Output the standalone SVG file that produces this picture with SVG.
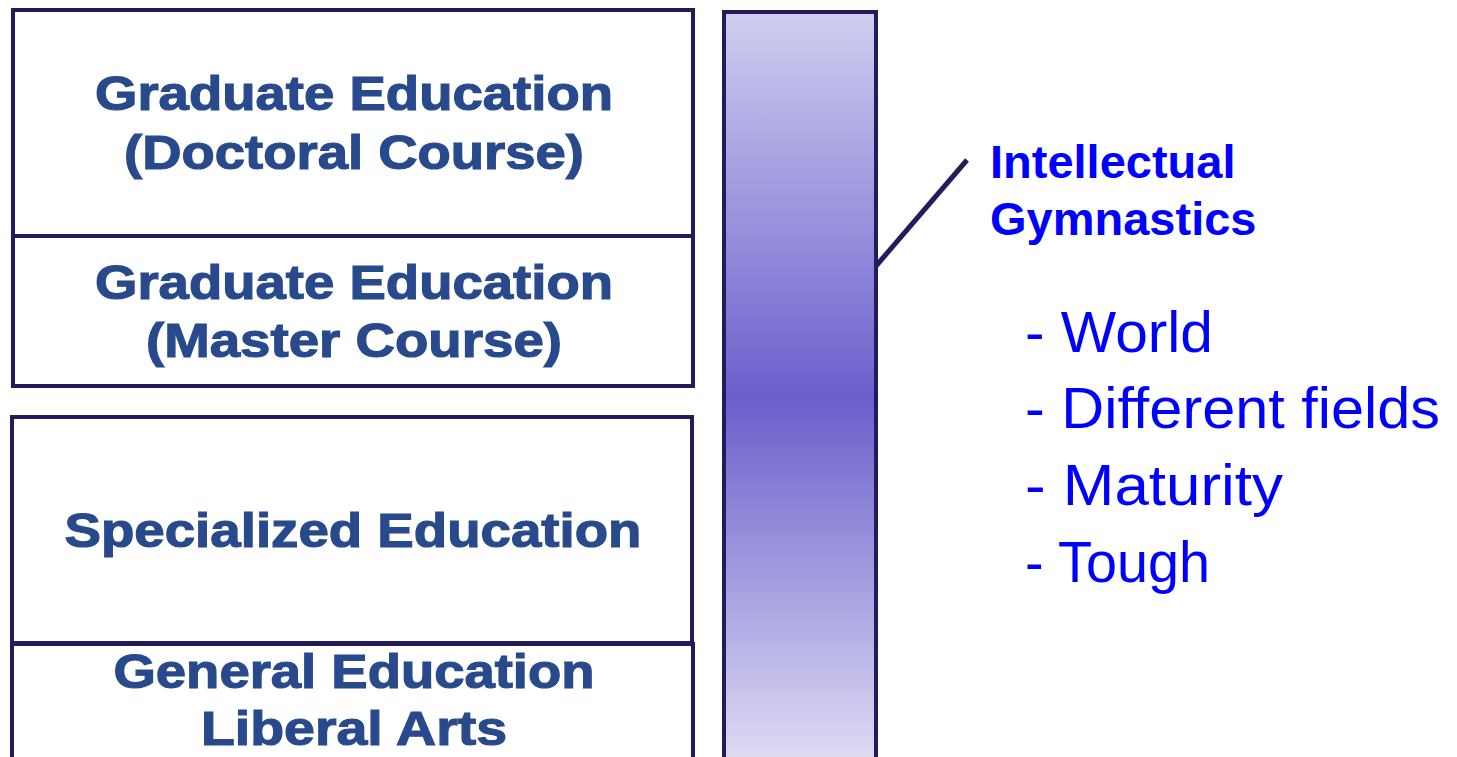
<svg xmlns="http://www.w3.org/2000/svg" width="1457" height="757" viewBox="0 0 1457 757">
<defs>
<linearGradient id="barGrad" x1="0" y1="0" x2="0" y2="1">
<stop offset="0" stop-color="#d0cef0"/>
<stop offset="0.515" stop-color="#6a5fcc"/>
<stop offset="1" stop-color="#dedcf3"/>
</linearGradient>
<style>
.box{fill:#ffffff;stroke:#221c5c;stroke-width:4}
.lbl{font-family:"Liberation Sans",Arial,sans-serif;font-weight:bold;font-size:49px;fill:#284a8c;stroke:#284a8c;stroke-width:1.2px;text-anchor:middle}
.ig{font-family:"Liberation Sans",Arial,sans-serif;font-weight:bold;font-size:47px;fill:#0000ff}
.item{font-family:"Liberation Sans",Arial,sans-serif;font-size:58px;fill:#0000ff}
</style>
</defs>
<rect width="1457" height="757" fill="#ffffff"/>
<g id="doctoral">
<rect class="box" x="13" y="10" width="680" height="226"/>
<text class="lbl" x="354" y="110" textLength="518" lengthAdjust="spacingAndGlyphs">Graduate Education</text>
<text class="lbl" x="354" y="169" textLength="460" lengthAdjust="spacingAndGlyphs">(Doctoral Course)</text>
</g>
<g id="master">
<rect class="box" x="13" y="236" width="680" height="150"/>
<text class="lbl" x="354" y="299" textLength="518" lengthAdjust="spacingAndGlyphs">Graduate Education</text>
<text class="lbl" x="354" y="357" textLength="416" lengthAdjust="spacingAndGlyphs">(Master Course)</text>
</g>
<g id="specialized">
<rect class="box" x="12" y="417" width="680" height="226"/>
<text class="lbl" x="353" y="547" textLength="577" lengthAdjust="spacingAndGlyphs">Specialized Education</text>
</g>
<g id="general">
<rect class="box" x="12" y="644" width="681" height="118"/>
<text class="lbl" x="354" y="688" textLength="481" lengthAdjust="spacingAndGlyphs">General Education</text>
<text class="lbl" x="354" y="745" textLength="306" lengthAdjust="spacingAndGlyphs">Liberal Arts</text>
</g>
<g id="bar">
<rect x="724" y="12" width="152" height="750" fill="url(#barGrad)" stroke="#221c5c" stroke-width="4"/>
</g>
<g id="connectors">
<line x1="876" y1="266" x2="967" y2="160" stroke="#221c5c" stroke-width="5"/>
</g>
<g id="gymnastics">
<text class="ig" x="990" y="178">Intellectual</text>
<text class="ig" x="990" y="235">Gymnastics</text>
</g>
<g id="list">
<text class="item" x="1025" y="352" textLength="188" lengthAdjust="spacingAndGlyphs">- World</text>
<text class="item" x="1025" y="428" textLength="415" lengthAdjust="spacingAndGlyphs">- Different fields</text>
<text class="item" x="1025" y="505" textLength="258" lengthAdjust="spacingAndGlyphs">- Maturity</text>
<text class="item" x="1025" y="582" textLength="185" lengthAdjust="spacingAndGlyphs">- Tough</text>
</g>
</svg>
